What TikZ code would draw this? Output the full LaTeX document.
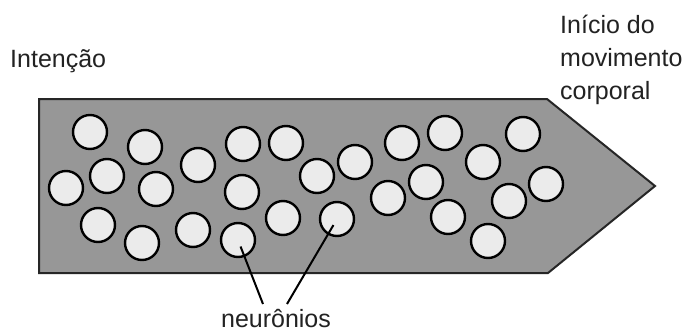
\documentclass[tikz,border=0pt]{standalone}
\usepackage{fontspec}
\setmainfont{Liberation Sans}
\definecolor{shapegray}{HTML}{979797}
\definecolor{cellfill}{HTML}{EBEBEB}
\definecolor{txt}{HTML}{222222}
\begin{document}
\begin{tikzpicture}[x=1pt,y=-1pt,
  neuron/.style={circle, draw=black, line width=2.4pt, fill=cellfill, minimum size=34pt, inner sep=0pt},
  lbl/.style={anchor=base west, inner sep=0pt, text=txt, font=\fontsize{25}{30}\selectfont},
  pointer/.style={draw=black, line width=2pt, shorten <=7pt}]
\useasboundingbox (0,0) rectangle (690,332);
\fill[white] (0,0) rectangle (690,332);
\draw[fill=shapegray, draw=black!85, line width=2pt]
  (39,99) -- (547,99) -- (655,186) -- (548,273) -- (39,273) -- cycle;
% neurons
\node[neuron] (n1) at (90,132) {};
\node[neuron] (n2) at (145,147) {};
\node[neuron] (n3) at (198,165) {};
\node[neuron] (n4) at (243,144) {};
\node[neuron] (n5) at (286,143) {};
\node[neuron] (n6) at (66,188) {};
\node[neuron] (n7) at (107,176) {};
\node[neuron] (n8) at (156,189) {};
\node[neuron] (n9) at (242,192) {};
\node[neuron] (n10) at (317,176) {};
\node[neuron] (n11) at (98,225) {};
\node[neuron] (n12) at (142,243) {};
\node[neuron] (n13) at (193,230) {};
\node[neuron] (n14) at (238,240) {};
\node[neuron] (n15) at (283,218) {};
\node[neuron] (n16) at (337,219) {};
\node[neuron] (n17) at (355,162) {};
\node[neuron] (n18) at (402,143) {};
\node[neuron] (n19) at (445,133) {};
\node[neuron] (n20) at (523,134) {};
\node[neuron] (n21) at (483,162) {};
\node[neuron] (n22) at (426,182) {};
\node[neuron] (n23) at (388,198) {};
\node[neuron] (n24) at (546,184) {};
\node[neuron] (n25) at (509,201) {};
\node[neuron] (n26) at (448,217) {};
\node[neuron] (n27) at (488,241) {};
% labels
\node[lbl] (intent) at (10,67) {Intenção};
\node[lbl] (startA) at (560,33) {Início do};
\node[lbl] (startB) at (560,66) {movimento};
\node[lbl] (startC) at (560,99) {corporal};
\node[lbl, anchor=base] (neur) at (276,327) {neurônios};
\coordinate (e1) at (263,304);
\coordinate (e2) at (287,304);
\draw[pointer] (n14.center) -- (e1);
\draw[pointer] (n16.center) -- (e2);
\end{tikzpicture}
\end{document}
